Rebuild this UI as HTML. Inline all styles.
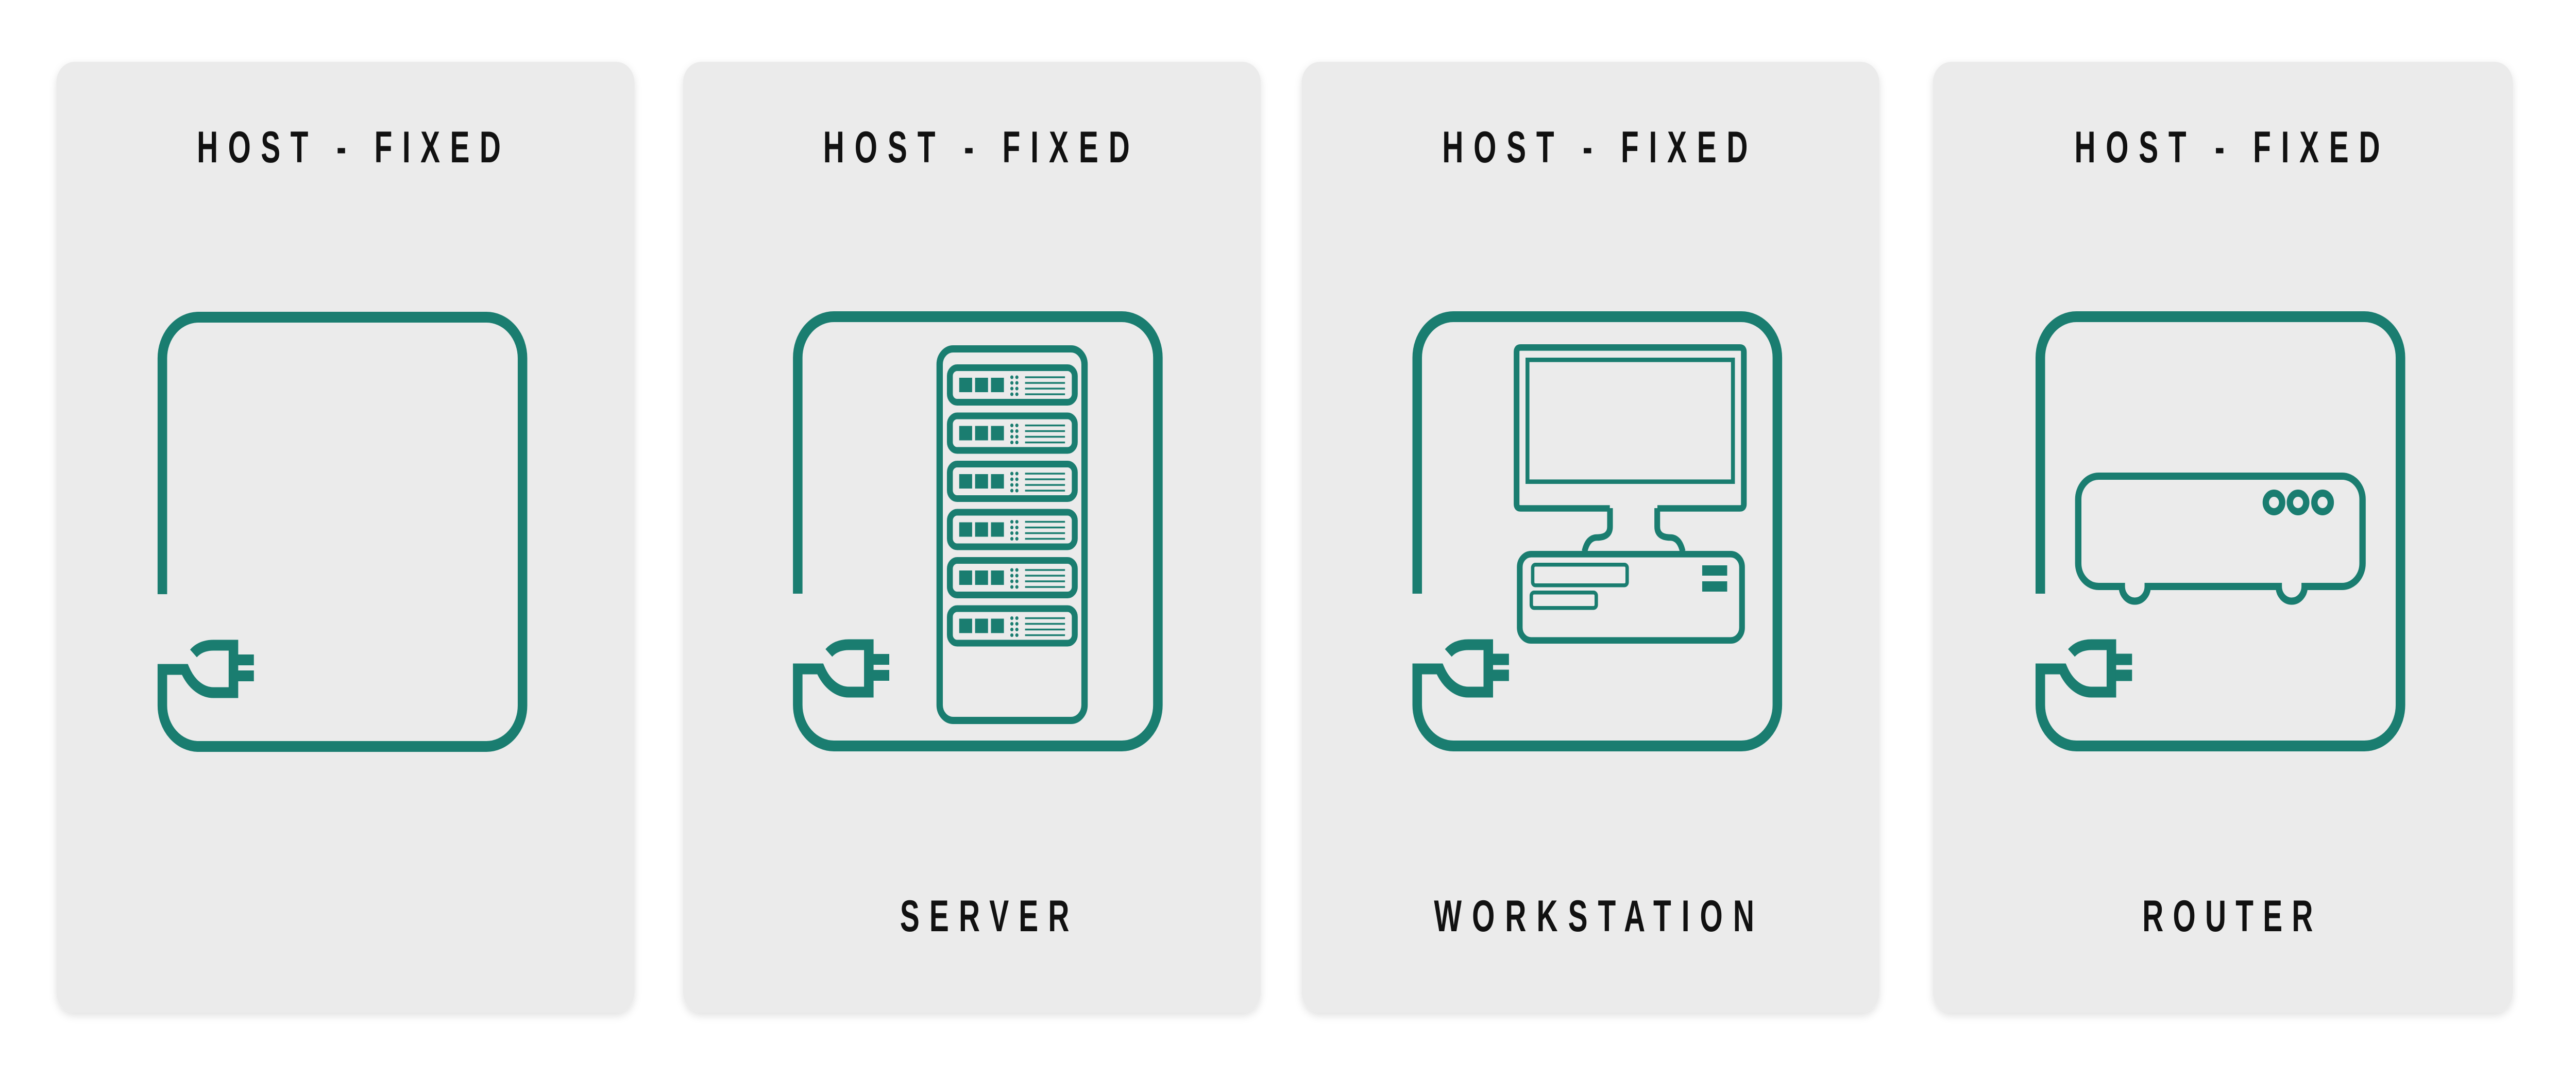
<!DOCTYPE html>
<html><head><meta charset="utf-8"><style>
html,body{margin:0;padding:0;background:#fff;overflow:hidden;width:100%;height:100%;}
svg{display:block;width:100vw;height:100vh;}
text{font-family:"Liberation Sans",sans-serif;font-weight:bold;fill:#111;}
</style></head><body>
<svg viewBox="0 0 5672 2086" preserveAspectRatio="none" xmlns="http://www.w3.org/2000/svg">
<defs>
<filter id="sh" x="-5%" y="-5%" width="110%" height="110%">
<feDropShadow dx="0" dy="6" stdDeviation="8" flood-color="#000" flood-opacity="0.12"/>
</filter>
<g id="frame">
<path d="M10.5,548 V90 A79.5,79.5 0 0 1 90,10.5 H724 A79.5,79.5 0 0 1 803.5,90 V764 A79.5,79.5 0 0 1 724,843.5 H90 A79.5,79.5 0 0 1 10.5,764 V694 H60 C75,725 100,739 123,739 H167 V647 H123 C105,647 90,652 79,663" fill="none" stroke="#1a7d70" stroke-width="21"/>
<rect x="177" y="665" width="35" height="21" fill="#1a7d70"/>
<rect x="177" y="696" width="35" height="21" fill="#1a7d70"/>
</g>
<g id="unit">
<rect x="345.5" y="109.5" width="275" height="67" rx="16" fill="none" stroke="#1a7d70" stroke-width="13"/>
<rect x="366" y="129" width="28.5" height="28" fill="#1a7d70"/>
<rect x="401" y="129" width="28.5" height="28" fill="#1a7d70"/>
<rect x="436" y="129" width="28.5" height="28" fill="#1a7d70"/>
<g fill="#1a7d70">
<circle cx="482" cy="128" r="3.5"/><circle cx="493" cy="128" r="3.5"/>
<circle cx="482" cy="139" r="3.5"/><circle cx="493" cy="139" r="3.5"/>
<circle cx="482" cy="150" r="3.5"/><circle cx="493" cy="150" r="3.5"/>
<circle cx="482" cy="161" r="3.5"/><circle cx="493" cy="161" r="3.5"/>
<rect x="511" y="126.3" width="88" height="3.5"/>
<rect x="511" y="137.3" width="88" height="3.5"/>
<rect x="511" y="148.3" width="88" height="3.5"/>
<rect x="511" y="159.3" width="88" height="3.5"/>
</g>
</g>
</defs>

<g fill="#ebebeb" filter="url(#sh)">
<rect x="124" y="120" width="1273" height="1845" rx="40"/>
<rect x="1504" y="120" width="1272" height="1845" rx="40"/>
<rect x="2866" y="120" width="1272" height="1845" rx="40"/>
<rect x="4256" y="120" width="1277" height="1845" rx="40"/>
</g>

<text transform="translate(768,315) scale(0.75,1)" text-anchor="middle" font-size="86" textLength="892" lengthAdjust="spacing">HOST - FIXED</text>
<text transform="translate(2150,315) scale(0.75,1)" text-anchor="middle" font-size="86" textLength="900" lengthAdjust="spacing">HOST - FIXED</text>
<text transform="translate(3512,315) scale(0.75,1)" text-anchor="middle" font-size="86" textLength="897" lengthAdjust="spacing">HOST - FIXED</text>
<text transform="translate(4904,315) scale(0.75,1)" text-anchor="middle" font-size="86" textLength="897" lengthAdjust="spacing">HOST - FIXED</text>

<text transform="translate(2168,1807) scale(0.75,1)" text-anchor="middle" font-size="86" textLength="497" lengthAdjust="spacing">SERVER</text>
<text transform="translate(3510,1807) scale(0.75,1)" text-anchor="middle" font-size="86" textLength="940" lengthAdjust="spacing">WORKSTATION</text>
<text transform="translate(4905,1807) scale(0.75,1)" text-anchor="middle" font-size="86" textLength="501" lengthAdjust="spacing">ROUTER</text>

<use href="#frame" transform="translate(347,605)"/>

<g transform="translate(1746,604)">
<use href="#frame"/>
<rect x="323" y="73" width="319" height="721" rx="30" fill="none" stroke="#1a7d70" stroke-width="14"/>
<use href="#unit"/>
<use href="#unit" transform="translate(0,93.5)"/>
<use href="#unit" transform="translate(0,187)"/>
<use href="#unit" transform="translate(0,280.5)"/>
<use href="#unit" transform="translate(0,374)"/>
<use href="#unit" transform="translate(0,467.5)"/>
</g>

<g transform="translate(3110,604)" fill="none" stroke="#1a7d70">
<use href="#frame"/>
<path d="M434.6,382.5 H238 Q229.3,382.5 229.3,374 V79 Q229.3,70.3 238,70.3 H721 Q729.7,70.3 729.7,79 V374 Q729.7,382.5 721,382.5 H539.4" stroke-width="12.6"/>
<rect x="253.3" y="94.3" width="452.4" height="236.4" stroke-width="8.6"/>
<path d="M435,382 V418 Q435,439 406,439 Q386,439 379,466" stroke-width="12.6"/>
<path d="M539,382 V418 Q539,439 568,439 Q588,439 595,466" stroke-width="12.6"/>
<rect x="236.3" y="471.3" width="489.4" height="167.4" rx="25" stroke-width="12.6"/>
<rect x="264.75" y="491.75" width="208" height="40" rx="6" stroke-width="7.5"/>
<rect x="261.75" y="545.75" width="143" height="30" rx="6" stroke-width="7.5"/>
<rect x="638" y="493" width="55" height="20" fill="#1a7d70" stroke="none"/>
<rect x="638" y="524" width="55" height="20" fill="#1a7d70" stroke="none"/>
</g>

<g transform="translate(4482,604)" fill="none" stroke="#1a7d70">
<use href="#frame"/>
<path d="M139,320 H675 A45,45 0 0 1 720,365 V489 A45,45 0 0 1 675,534 H592.5 A28.5,28.5 0 0 1 535.5,534 H247 A28.5,28.5 0 0 1 190,534 H139 A45,45 0 0 1 94,489 V365 A45,45 0 0 1 139,320 Z" stroke-width="14"/>
<circle cx="525" cy="371" r="18" stroke-width="14"/>
<circle cx="578" cy="371" r="18" stroke-width="14"/>
<circle cx="632" cy="371" r="18" stroke-width="14"/>
</g>
</svg>
</body></html>
